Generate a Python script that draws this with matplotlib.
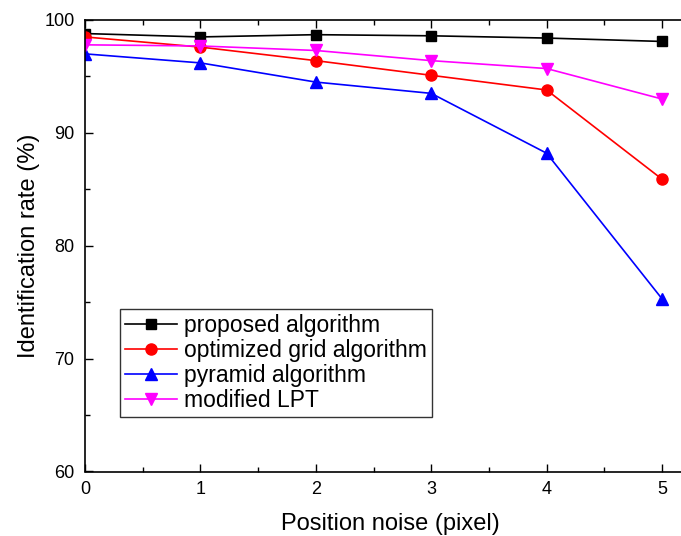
import matplotlib
matplotlib.use("Agg")
import matplotlib.pyplot as plt
from matplotlib.ticker import MultipleLocator

plt.rcParams['font.family'] = ['Liberation Sans', 'DejaVu Sans']

noise = [0, 1, 2, 3, 4, 5]
proposed = [98.8, 98.5, 98.7, 98.6, 98.4, 98.1]
optimized_grid = [98.5, 97.6, 96.4, 95.1, 93.8, 85.9]
pyramid = [97.0, 96.2, 94.5, 93.5, 88.2, 75.3]
modified_lpt = [97.8, 97.7, 97.3, 96.4, 95.7, 93.0]

labels = ["proposed algorithm", "optimized grid algorithm", "pyramid algorithm", "modified LPT"]

W, H = 681, 536
fig = plt.figure(figsize=(W / 100, H / 100), dpi=100)
x0px, x5px = 85, 662
upx = (x5px - x0px) / 5.0
xmax = 5.3
ax = fig.add_axes([x0px / W, 1 - 471.5 / H, xmax * upx / W, (471.5 - 20) / H])

ax.plot(noise, proposed, color='black', marker='s', markersize=7, lw=1.2, label=labels[0])
ax.plot(noise, optimized_grid, color='red', marker='o', markersize=8, lw=1.2, label=labels[1])
ax.plot(noise, pyramid, color='blue', marker='^', markersize=8.5, lw=1.2, label=labels[2])
ax.plot(noise, modified_lpt, color='magenta', marker='v', markersize=8.5, lw=1.2, label=labels[3])

ax.set_xlim(0, xmax)
ax.set_ylim(60, 100)
ax.xaxis.set_major_locator(MultipleLocator(1))
ax.xaxis.set_minor_locator(MultipleLocator(0.5))
ax.yaxis.set_major_locator(MultipleLocator(10))
ax.yaxis.set_minor_locator(MultipleLocator(5))
ax.tick_params(which='both', direction='in', top=True, right=False, labelsize=13, width=1)
ax.tick_params(axis='x', which='major', pad=6.5)
ax.tick_params(axis='y', which='major', pad=7.5)
ax.tick_params(which='major', length=6)
ax.tick_params(which='minor', length=3.5)
ax.spines['right'].set_visible(False)
for s in ['left', 'bottom', 'top']:
    ax.spines[s].set_linewidth(1.2)

ax.set_xlabel("Position noise (pixel)", fontsize=17, labelpad=11)
ax.set_ylabel("Identification rate (%)", fontsize=17, labelpad=3)

leg = ax.legend(loc='lower left', bbox_to_anchor=(120 / W, 1 - 417 / H), bbox_transform=fig.transFigure,
                fontsize=16.5, frameon=True, fancybox=False, edgecolor='black', borderaxespad=0,
                handlelength=2.3, handletextpad=0.3, labelspacing=0.1, borderpad=0.2)
leg.get_frame().set_linewidth(1.0)

fig.savefig("out.png", dpi=100)
